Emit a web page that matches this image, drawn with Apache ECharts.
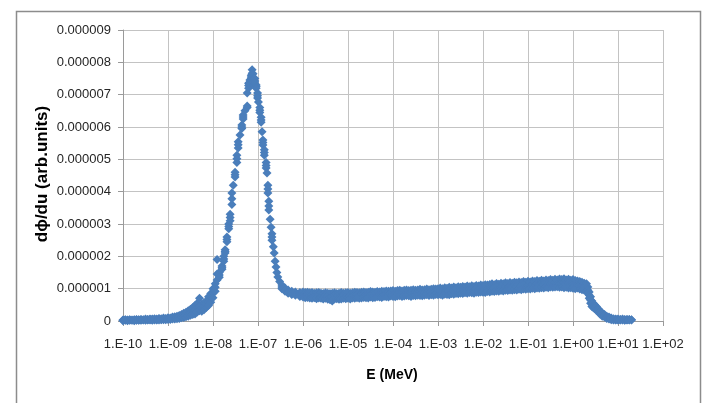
<!DOCTYPE html>
<html><head><meta charset="utf-8">
<script src="https://cdn.jsdelivr.net/npm/echarts@6/dist/echarts.min.js"></script>
<style>html,body{margin:0;padding:0;background:#fff}#c{width:704px;height:403px}</style>
</head><body><div id="c"></div>
<script>
// log10 of energy (MeV)
const logE = [
-10.00,-9.95,-9.90,-9.85,-9.80,-9.75,-9.70,-9.65,-9.60,-9.55,-9.50,-9.45,-9.40,-9.35,-9.30,-9.25,-9.20,-9.15,-9.10,-9.05,
-9.00,-8.95,-8.90,-8.85,-8.80,-8.75,-8.70,-8.65,-8.60,-8.55,-8.50,-8.45,-8.40,-8.35,-8.30,-8.25,-8.20,-8.15,-8.10,-8.05,
-8.00,-7.95,-7.91,-7.86,-7.80,-7.76,-7.73,-7.69,-7.65,-7.62,-7.58,-7.55,-7.51,-7.47,-7.44,-7.40,-7.36,-7.33,-7.29,-7.24,
-7.21,-7.18,-7.15,-7.13,-7.11,-7.09,-7.07,-7.04,-7.01,-6.99,-6.96,-6.93,-6.91,-6.89,-6.86,-6.82,-6.80,-6.78,-6.76,-6.73,
-6.71,-6.69,-6.66,-6.64,-6.62,-6.60,-6.58,-6.56,-6.52,-6.47,-6.40,-6.33,-6.25,-6.17,-6.07,
-6.00,-5.95,-5.90,-5.85,-5.80,-5.75,-5.70,-5.65,-5.60,-5.55,-5.50,-5.45,-5.40,-5.35,-5.30,-5.25,-5.20,-5.15,-5.10,-5.05,
-5.00,-4.95,-4.90,-4.85,-4.80,-4.75,-4.70,-4.65,-4.60,-4.55,-4.50,-4.45,-4.40,-4.35,-4.30,-4.25,-4.20,-4.15,-4.10,-4.05,
-4.00,-3.95,-3.90,-3.85,-3.80,-3.75,-3.70,-3.65,-3.60,-3.55,-3.50,-3.45,-3.40,-3.35,-3.30,-3.25,-3.20,-3.15,-3.10,-3.05,
-3.00,-2.95,-2.90,-2.85,-2.80,-2.75,-2.70,-2.65,-2.60,-2.55,-2.50,-2.45,-2.40,-2.35,-2.30,-2.25,-2.20,-2.15,-2.10,-2.05,
-2.00,-1.95,-1.90,-1.85,-1.80,-1.75,-1.70,-1.65,-1.60,-1.55,-1.50,-1.45,-1.40,-1.35,-1.30,-1.25,-1.20,-1.15,-1.10,-1.05,
-1.00,-0.95,-0.90,-0.85,-0.80,-0.75,-0.70,-0.65,-0.60,-0.55,-0.50,-0.45,-0.40,-0.35,-0.30,-0.25,-0.20,-0.15,-0.10,-0.05,
0.00,0.05,0.10,0.15,0.20,0.25,0.30,0.33,0.36,0.39,0.42,0.45,0.48,0.52,0.56,0.60,0.65,0.70,0.75,0.80,
0.85,0.90,0.95,1.00,1.05,1.10,1.15,1.20,1.25,1.30
];
// upper edge of the scattered band (units of 1e-6)
const fluxHi = [
0.03,0.04,0.03,0.04,0.03,0.04,0.05,0.04,0.05,0.04,0.06,0.05,0.06,0.06,0.07,0.06,0.08,0.07,0.09,0.08,
0.10,0.09,0.12,0.13,0.15,0.17,0.20,0.24,0.27,0.32,0.36,0.42,0.48,0.55,0.70,0.52,0.56,0.62,0.75,0.85,
1.00,1.15,1.90,1.50,1.70,2.00,2.20,2.60,3.00,3.30,3.96,4.20,4.60,5.13,5.54,5.75,6.06,6.37,6.50,7.05,
7.35,7.45,7.60,7.77,7.65,7.50,7.50,7.30,7.05,6.77,6.60,6.30,5.85,5.60,5.30,4.90,4.58,4.20,3.70,3.15,
2.90,2.70,2.30,2.10,1.85,1.67,1.50,1.36,1.22,1.11,1.02,0.96,0.92,0.90,0.88,
0.90,0.88,0.89,0.87,0.88,0.86,0.87,0.88,0.86,0.85,0.87,0.86,0.85,0.86,0.87,0.85,0.86,0.88,0.86,0.87,
0.88,0.86,0.87,0.89,0.88,0.87,0.89,0.90,0.88,0.89,0.91,0.90,0.89,0.91,0.90,0.92,0.91,0.93,0.92,0.93,
0.94,0.92,0.94,0.95,0.93,0.95,0.96,0.94,0.95,0.97,0.95,0.96,0.98,0.96,0.97,0.99,0.97,0.98,1.00,0.99,
1.00,1.02,1.00,1.03,1.01,1.04,1.02,1.05,1.03,1.06,1.04,1.07,1.05,1.08,1.06,1.09,1.07,1.10,1.08,1.11,
1.10,1.12,1.11,1.13,1.15,1.12,1.16,1.14,1.17,1.15,1.18,1.16,1.19,1.17,1.20,1.18,1.21,1.19,1.22,1.20,
1.23,1.21,1.24,1.22,1.25,1.23,1.26,1.24,1.27,1.25,1.28,1.26,1.29,1.27,1.30,1.28,1.31,1.27,1.29,1.26,
1.28,1.25,1.24,1.22,1.20,1.17,1.15,1.05,0.90,0.75,0.62,0.55,0.50,0.45,0.38,0.32,0.25,0.20,0.15,0.12,
0.09,0.07,0.06,0.06,0.05,0.06,0.05,0.05,0.05,0.04
];
// middle of the scattered band (units of 1e-6)
const fluxMid = [
0.02,0.03,0.02,0.03,0.02,0.03,0.03,0.03,0.04,0.03,0.04,0.04,0.05,0.04,0.05,0.04,0.06,0.05,0.06,0.06,
0.07,0.07,0.09,0.09,0.11,0.12,0.15,0.17,0.20,0.23,0.27,0.31,0.35,0.42,0.45,0.41,0.45,0.52,0.61,0.71,
0.86,1.04,1.45,1.42,1.65,1.92,2.15,2.52,2.92,3.20,3.78,4.20,4.52,5.02,5.45,5.75,6.00,6.31,6.50,6.65,
7.28,7.38,7.55,7.66,7.52,7.40,7.42,7.25,6.97,6.77,6.52,6.22,5.85,5.52,5.21,4.81,4.58,4.08,3.56,3.15,
2.90,2.60,2.30,2.10,1.85,1.67,1.50,1.36,1.22,1.05,0.97,0.91,0.87,0.85,0.82,
0.81,0.79,0.82,0.78,0.80,0.79,0.77,0.80,0.78,0.76,0.79,0.76,0.75,0.74,0.78,0.77,0.76,0.79,0.78,0.77,
0.79,0.77,0.80,0.79,0.80,0.78,0.81,0.82,0.80,0.81,0.83,0.81,0.82,0.83,0.82,0.83,0.84,0.84,0.83,0.85,
0.85,0.84,0.86,0.87,0.85,0.86,0.88,0.86,0.86,0.88,0.87,0.88,0.89,0.87,0.89,0.90,0.88,0.90,0.90,0.91,
0.91,0.92,0.90,0.93,0.92,0.93,0.93,0.94,0.94,0.95,0.95,0.96,0.96,0.97,0.97,0.98,0.97,0.99,0.98,1.00,
0.99,1.00,1.01,1.02,1.03,1.02,1.05,1.03,1.06,1.04,1.07,1.05,1.08,1.06,1.09,1.07,1.10,1.08,1.11,1.09,
1.12,1.10,1.13,1.11,1.14,1.12,1.15,1.13,1.16,1.14,1.17,1.15,1.17,1.16,1.17,1.16,1.17,1.15,1.16,1.14,
1.15,1.12,1.13,1.10,1.08,1.06,1.05,0.95,0.80,0.65,0.53,0.48,0.44,0.39,0.33,0.27,0.20,0.16,0.11,0.09,
0.06,0.05,0.04,0.04,0.04,0.04,0.03,0.04,0.04,0.03
];
// lower edge of the scattered band (units of 1e-6)
const fluxLo = [
0.01,0.02,0.01,0.02,0.02,0.01,0.02,0.02,0.02,0.03,0.02,0.03,0.03,0.02,0.03,0.03,0.03,0.04,0.04,0.04,
0.05,0.05,0.06,0.06,0.07,0.08,0.10,0.11,0.13,0.15,0.18,0.20,0.22,0.28,0.32,0.30,0.35,0.42,0.48,0.58,
0.72,0.92,1.27,1.35,1.60,1.85,2.10,2.45,2.85,3.10,3.60,4.20,4.45,4.90,5.35,5.75,5.95,6.25,6.50,6.60,
7.20,7.30,7.50,7.55,7.40,7.30,7.35,7.20,6.90,6.77,6.45,6.15,5.85,5.44,5.13,4.73,4.58,3.96,3.43,3.15,
2.90,2.50,2.30,2.10,1.85,1.67,1.50,1.36,1.22,1.00,0.92,0.86,0.82,0.80,0.76,
0.74,0.72,0.73,0.71,0.70,0.72,0.69,0.71,0.70,0.68,0.70,0.67,0.66,0.62,0.68,0.69,0.67,0.68,0.70,0.69,
0.70,0.68,0.71,0.70,0.72,0.70,0.71,0.73,0.72,0.71,0.74,0.72,0.73,0.75,0.74,0.73,0.76,0.75,0.74,0.77,
0.76,0.75,0.77,0.78,0.76,0.77,0.79,0.78,0.76,0.79,0.78,0.80,0.79,0.78,0.80,0.81,0.79,0.81,0.80,0.82,
0.81,0.82,0.80,0.83,0.82,0.81,0.84,0.83,0.85,0.84,0.86,0.85,0.87,0.86,0.88,0.87,0.86,0.89,0.88,0.90,
0.89,0.88,0.91,0.90,0.92,0.91,0.93,0.92,0.94,0.93,0.95,0.94,0.96,0.95,0.97,0.96,0.98,0.97,0.99,0.98,
1.00,0.99,1.01,1.00,1.02,1.01,1.03,1.02,1.04,1.03,1.05,1.04,1.05,1.06,1.04,1.05,1.03,1.04,1.02,1.03,
1.01,1.00,1.02,0.99,0.97,0.95,0.95,0.85,0.70,0.55,0.45,0.42,0.38,0.33,0.28,0.22,0.15,0.12,0.08,0.06,
0.04,0.03,0.03,0.03,0.03,0.03,0.02,0.03,0.03,0.03
];
const yTicks = ['0','0.000001','0.000002','0.000003','0.000004','0.000005','0.000006','0.000007','0.000008','0.000009'];
const xTitle = 'E (MeV)';
const yTitle = 'd\u03d5/du (arb.units)';

const pts = [];
for (let i = 0; i < logE.length; i++) {
  const e = Math.pow(10, logE[i]);
  pts.push([e, fluxHi[i] * 1e-6]);
  if (fluxMid[i] !== fluxHi[i]) pts.push([e, fluxMid[i] * 1e-6]);
  if (fluxLo[i] !== fluxMid[i] && fluxLo[i] !== fluxHi[i]) pts.push([e, fluxLo[i] * 1e-6]);
}

const chart = echarts.init(document.getElementById('c'), null, {renderer: 'canvas'});
const FONT = '"Liberation Sans", Arial, sans-serif';
chart.setOption({
  animation: false,
  backgroundColor: '#fff',
  grid: {left: 123, top: 30, width: 540, height: 291, containLabel: false},
  xAxis: {
    type: 'log', logBase: 10, min: 1e-10, max: 100, interval: 1, splitNumber: 12,
    axisLine: {show: true, onZero: false, lineStyle: {color: '#9a9a9a', width: 1}},
    axisTick: {show: true, length: 5, lineStyle: {color: '#9a9a9a'}},
    axisLabel: {
      margin: 17, color: '#262626', fontFamily: FONT, fontSize: 13,
      showMinLabel: true, showMaxLabel: true,
      formatter: function (v) {
        const e = Math.round(Math.log10(v));
        return '1.E' + (e < 0 ? '-' : '+') + String(Math.abs(e)).padStart(2, '0');
      }
    },
    splitLine: {show: true, lineStyle: {color: '#c3c3c3', width: 1}},
    minorTick: {show: false}
  },
  yAxis: {
    type: 'value', min: 0, max: 9e-6, interval: 1e-6,
    axisLine: {show: true, lineStyle: {color: '#9a9a9a', width: 1}},
    axisTick: {show: true, length: 5, lineStyle: {color: '#9a9a9a'}},
    axisLabel: {
      margin: 12, color: '#262626', fontFamily: FONT, fontSize: 13,
      formatter: function (v) { return yTicks[Math.round(v / 1e-6)]; }
    },
    splitLine: {show: true, lineStyle: {color: '#c3c3c3', width: 1}}
  },
  series: [{
    type: 'scatter', symbol: 'diamond', symbolSize: 9,
    itemStyle: {color: '#4a7ebb', opacity: 1},
    data: pts, large: false
  }],
  graphic: [
    {type: 'rect', left: 14, top: 9, shape: {width: 684, height: 420},
     style: {fill: 'none', stroke: '#8c8c8c', lineWidth: 1.5}, silent: true, z: 100},
    {type: 'text', x: 392, y: 375,
     style: {text: xTitle, font: 'bold 14px ' + FONT, fill: '#000', textAlign: 'center', textVerticalAlign: 'middle'}},
    {type: 'text', x: 42, y: 174, rotation: Math.PI / 2,
     style: {text: yTitle, font: 'bold 17px ' + FONT, fill: '#000', textAlign: 'center', textVerticalAlign: 'middle'}}
  ]
});
</script></body></html>
